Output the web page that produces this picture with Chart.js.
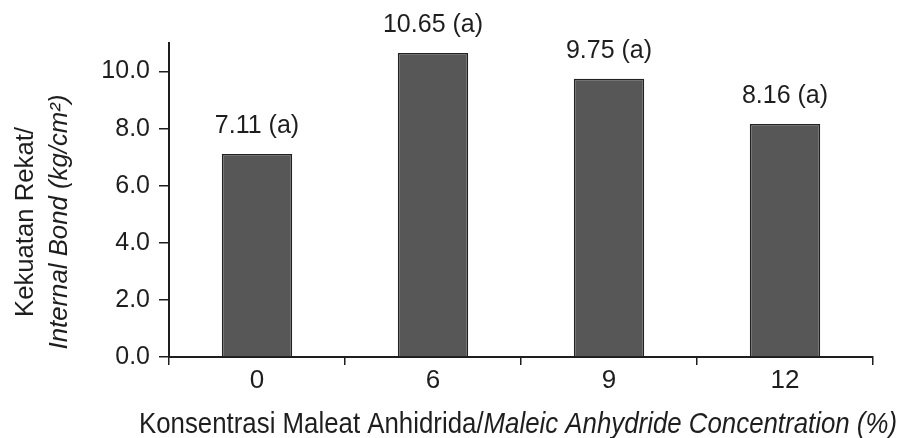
<!DOCTYPE html>
<html>
<head>
<meta charset="utf-8">
<script src="https://cdn.jsdelivr.net/npm/chart.js@4.4.1/dist/chart.umd.min.js"></script>
<style>
  html, body { margin: 0; padding: 0; background: #fff; }
  #wrap { width: 903px; height: 438px; }
</style>
</head>
<body>
<div id="wrap"><canvas id="ibChart" width="903" height="438"></canvas></div>
<script>
const concentrations = ['0', '6', '9', '12'];
const internalBond = [7.11, 10.65, 9.75, 8.16];
const groupLetters = ['a', 'a', 'a', 'a'];
const yTicks = [0, 2, 4, 6, 8, 10];

const FONT = '"Liberation Sans", Arial, Helvetica, sans-serif';
const INK = '#1e1e1e';

// draw pieces of [text, italic] one after another, squeezed to a given width
function drawRuns(ctx, runs, size, width) {
    const fonts = runs.map(r => (r[1] ? 'italic ' : '') + size + 'px ' + FONT);
    let total = 0;
    const widths = runs.map((r, i) => {
        ctx.font = fonts[i];
        const w = ctx.measureText(r[0]).width;
        total += w;
        return w;
    });
    const k = width / total;
    ctx.save();
    ctx.scale(k, 1);
    let x = -total / 2;
    runs.forEach((r, i) => {
        ctx.font = fonts[i];
        ctx.fillText(r[0], x, 0);
        x += widths[i];
    });
    ctx.restore();
}

const titlesPlugin = {
    id: 'titles',
    afterDraw(chart) {
        const ctx = chart.ctx;
        ctx.save();
        ctx.fillStyle = INK;
        ctx.textAlign = 'left';
        ctx.textBaseline = 'alphabetic';

        // y axis title, two rotated lines
        ctx.save();
        ctx.translate(33, 222);
        ctx.rotate(-Math.PI / 2);
        drawRuns(ctx, [['Kekuatan Rekat/', false]], 26, 190);
        ctx.restore();

        ctx.save();
        ctx.translate(67, 222);
        ctx.rotate(-Math.PI / 2);
        drawRuns(ctx, [['Internal Bond (kg/cm\u00B2)', true]], 26, 255);
        ctx.restore();

        // x axis title
        ctx.save();
        ctx.translate(518, 433);
        drawRuns(ctx, [
            ['Konsentrasi Maleat Anhidrida/', false],
            ['Maleic Anhydride Concentration (%)', true]
        ], 29, 758);
        ctx.restore();

        ctx.restore();
    }
};

const barLabelPlugin = {
    id: 'barLabels',
    afterDatasetsDraw(chart) {
        const ctx = chart.ctx;
        const meta = chart.getDatasetMeta(0);
        ctx.save();
        ctx.fillStyle = INK;
        ctx.font = '25px ' + FONT;
        ctx.textAlign = 'center';
        ctx.textBaseline = 'alphabetic';
        meta.data.forEach((bar, i) => {
            const txt = internalBond[i].toFixed(2) + ' (' + groupLetters[i] + ')';
            ctx.fillText(txt, bar.x, bar.y - 21);
        });
        ctx.restore();
    }
};

new Chart(document.getElementById('ibChart'), {
    type: 'bar',
    data: {
        labels: concentrations,
        datasets: [{
            data: internalBond,
            backgroundColor: '#575757',
            borderColor: '#222',
            borderWidth: 1.5,
            barPercentage: 0.4,
            categoryPercentage: 1.0
        }]
    },
    options: {
        responsive: false,
        animation: false,
        layout: { padding: { top: 43, right: 30, left: 0, bottom: 0 } },
        plugins: {
            legend: { display: false },
            tooltip: { enabled: false }
        },
        scales: {
            x: {
                offset: true,
                grid: {
                    offset: true,
                    drawOnChartArea: false,
                    tickLength: 8,
                    color: INK,
                    lineWidth: 1.5
                },
                border: { color: INK, width: 2 },
                ticks: {
                    color: INK,
                    padding: 0,
                    font: { family: FONT, size: 26 }
                },
                afterFit: scale => { scale.height = 81; }
            },
            y: {
                min: 0,
                max: 11,
                afterBuildTicks: scale => { scale.ticks = yTicks.map(v => ({ value: v })); },
                grid: {
                    drawOnChartArea: false,
                    tickLength: 10,
                    color: INK,
                    lineWidth: 1.5
                },
                border: { color: INK, width: 2 },
                ticks: {
                    color: INK,
                    padding: 9,
                    font: { family: FONT, size: 25 },
                    callback: value => value.toFixed(1)
                },
                afterFit: scale => { scale.width = 169; }
            }
        }
    },
    plugins: [titlesPlugin, barLabelPlugin]
});
</script>
</body>
</html>
